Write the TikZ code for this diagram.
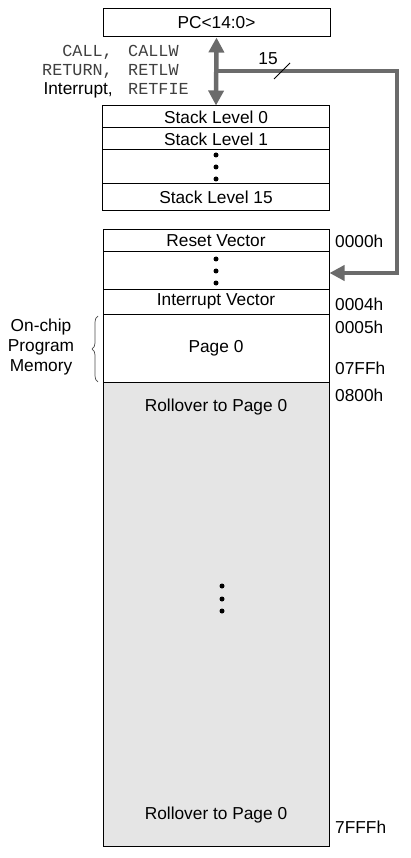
\documentclass[tikz,border=0pt]{standalone}
\usepackage{fontspec}
\setmainfont{Liberation Sans}
\setmonofont{Liberation Mono}
\usetikzlibrary{arrows.meta,decorations.pathreplacing}
\begin{document}
\begin{tikzpicture}[x=1pt,y=-1pt,
 txt/.style={font=\fontsize{17.3}{20}\selectfont, inner sep=0pt},
 mono/.style={font=\fontsize{16.8}{20}\selectfont\ttfamily, text=black!75, inner sep=0pt},
 box/.style={draw=black, line width=1pt, minimum width=227pt, inner sep=0pt, font=\fontsize{17.3}{20}\selectfont},
 dot/.style={circle, fill=black, inner sep=0pt, minimum size=5pt},
 bus/.style={draw=black!58, line width=4.5pt},
 tipA/.style={-{Triangle[length=15pt,width=15pt]}},
 tipB/.style={{Triangle[length=15pt,width=15pt]}-{Triangle[length=15pt,width=15pt]}},
 addr/.style={txt, anchor=west}
]
\useasboundingbox (0,0) rectangle (410,858);

% PC
\node[box, minimum height=28pt] (pc) at (216.5,23) {PC<14:0>};

% stack
\node[box, minimum height=22pt] (s0) at (216,117) {Stack Level 0};
\node[box, minimum height=22pt] (s1) at (216,139) {Stack Level 1};
\node[box, minimum height=34pt] (sd) at (216,167) {};
\node[box, minimum height=27pt] (s15) at (216,197.5) {Stack Level 15};
\node[dot] (sd1) at (216,155) {};
\node[dot] (sd2) at (216,167) {};
\node[dot] (sd3) at (216,179) {};

% memory
\node[box, minimum width=226pt, minimum height=464pt, fill=black!10] (roll) at (216,614) {};
\node[box, minimum width=226pt, minimum height=22pt] (rv) at (216,241) {Reset Vector};
\node[box, minimum width=226pt, minimum height=37pt] (md) at (216,270.5) {};
\node[box, minimum width=226pt, minimum height=25pt] (iv) at (216,301.5) {Interrupt Vector};
\node[box, minimum width=226pt, minimum height=68pt] (p0) at (216,348) {Page 0};
\node[dot] (md1) at (216,259) {};
\node[dot] (md2) at (216,271) {};
\node[dot] (md3) at (216,283) {};
\node[txt] (rtop) at (216,407) {Rollover to Page 0};
\node[txt] (rbot) at (216,815) {Rollover to Page 0};
\node[dot] (bd1) at (222,586) {};
\node[dot] (bd2) at (222,599) {};
\node[dot] (bd3) at (222,611) {};

% addresses
\node[addr] (a0) at (335,241) {0000h};
\node[addr] (a4) at (335,304) {0004h};
\node[addr] (a5) at (335,327) {0005h};
\node[addr] (a7) at (335,368) {07FFh};
\node[addr] (a8) at (335,395) {0800h};
\node[addr] (af) at (335,827) {7FFFh};

% instruction labels
\node[mono, anchor=base east] (l1) at (113,57) {CALL,};
\node[mono, anchor=base west] (r1) at (128,57) {CALLW};
\node[mono, anchor=base east] (l2) at (113,76) {RETURN,};
\node[mono, anchor=base west] (r2) at (128,76) {RETLW};
\node[txt, anchor=base east] (l3) at (113,95) {Interrupt,};
\node[mono, anchor=base west] (r3) at (128,95) {RETFIE};

% bus
\coordinate (j) at (216,71);
\coordinate (c1) at (397,71);
\coordinate (c2) at (397,273);
\draw[bus, tipB] (pc.south) -- (s0.north);
\draw[bus, tipA, line join=miter] (j) -- (c1) -- (c2) -- (md.east |- c2);
\coordinate (sl1) at (274,79);
\coordinate (sl2) at (290,63);
\draw[black, line width=0.8pt] (sl1) -- (sl2);
\node[txt] (w) at (268,59) {15};

% brace
\coordinate (b1) at (98,382);
\coordinate (b2) at (98,316);
\draw[black!70, line width=0.7pt, decorate, decoration={brace, amplitude=6pt}] (b1) -- (b2);
\node[txt, align=center] (oc) at (41,347) {On-chip\\Program\\Memory};
\end{tikzpicture}
\end{document}
